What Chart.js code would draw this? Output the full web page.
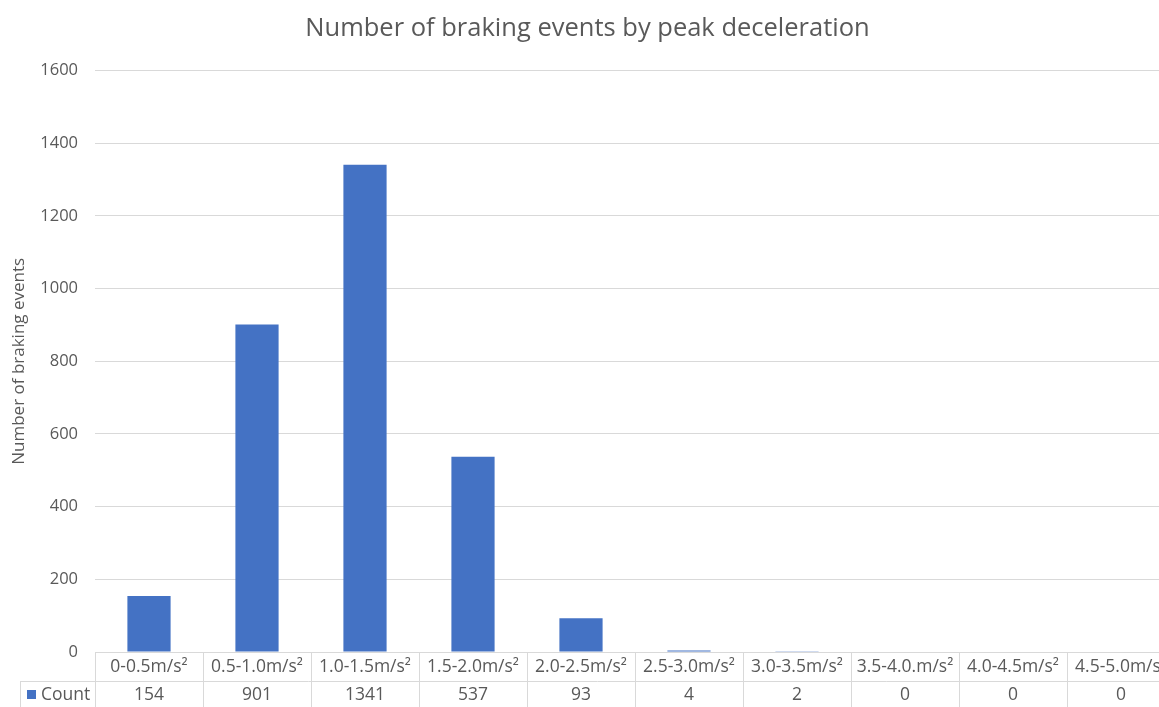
<!DOCTYPE html>
<html>
<head>
<meta charset="utf-8">
<script src="https://cdn.jsdelivr.net/npm/chart.js@4"></script>
<style>
    html, body { margin: 0; padding: 0; background: #fff; overflow: hidden; }
    #wrap { width: 1175px; height: 707px; }
</style>
</head>
<body>
<div id="wrap"><canvas id="braking-chart"></canvas></div>
<script>
/* Braking events by peak deceleration — bar chart with Excel-style data table */
var categories = ["0-0.5m/s\u00b2", "0.5-1.0m/s\u00b2", "1.0-1.5m/s\u00b2", "1.5-2.0m/s\u00b2", "2.0-2.5m/s\u00b2",
    "2.5-3.0m/s\u00b2", "3.0-3.5m/s\u00b2", "3.5-4.0.m/s\u00b2", "4.0-4.5m/s\u00b2", "4.5-5.0m/s\u00b2"];
var counts = [154, 901, 1341, 537, 93, 4, 2, 0, 0, 0];
var seriesName = "Count";
var yTicks = [0, 200, 400, 600, 800, 1000, 1200, 1400, 1600];

var textColor = "#595959";
var gridColor = "#d9d9d9";
var barColor = "#4472c4";
var fontFamily = "'Open Sans', 'Noto Sans', sans-serif";

/* Draws the data table under the plot, using the x scale for cell positions */
var dataTablePlugin = {
    id: "dataTable",
    afterDraw: function (chart) {
        var ctx = chart.ctx;
        var x = chart.scales.x;
        var area = chart.chartArea;
        var n = categories.length;
        var step = x.width / n;
        var top = area.bottom;
        var mid = top + 29;
        var bottom = chart.height;
        var keyLeft = 20;

        ctx.save();
        ctx.strokeStyle = gridColor;
        ctx.lineWidth = 1;
        ctx.beginPath();
        ctx.moveTo(x.left, top + 0.5);
        ctx.lineTo(x.right, top + 0.5);
        ctx.moveTo(keyLeft, mid + 0.5);
        ctx.lineTo(x.right, mid + 0.5);
        ctx.moveTo(keyLeft + 0.5, mid);
        ctx.lineTo(keyLeft + 0.5, bottom);
        for (var i = 0; i <= n; i++) {
            var bx = Math.round(x.getPixelForValue(0) - step / 2 + i * step) + 0.5;
            ctx.moveTo(bx, top);
            ctx.lineTo(bx, bottom);
        }
        ctx.stroke();

        ctx.fillStyle = textColor;
        ctx.font = "17.5px " + fontFamily;
        ctx.textAlign = "center";
        ctx.textBaseline = "middle";
        for (var j = 0; j < n; j++) {
            var cx = x.getPixelForValue(j);
            ctx.fillText(categories[j], cx, top + 15);
            ctx.fillText(String(counts[j]), cx, mid + 14);
        }

        ctx.fillStyle = barColor;
        ctx.fillRect(27, mid + 9, 9, 9);
        ctx.fillStyle = textColor;
        ctx.textAlign = "left";
        ctx.fillText(seriesName, 41, mid + 14);
        ctx.restore();
    }
};

new Chart(document.getElementById("braking-chart").getContext("2d"), {
    type: "bar",
    data: {
        labels: categories,
        datasets: [{
            label: seriesName,
            data: counts,
            backgroundColor: barColor,
            borderWidth: 0,
            barPercentage: 0.4,
            categoryPercentage: 1.0
        }]
    },
    options: {
        responsive: true,
        maintainAspectRatio: false,
        animation: false,
        layout: { padding: { left: 0, right: 0, top: 0, bottom: 0 } },
        plugins: {
            legend: { display: false },
            tooltip: { enabled: false },
            title: {
                display: true,
                text: "Number of braking events by peak deceleration",
                color: textColor,
                font: { family: fontFamily, size: 25.5, weight: "normal" },
                padding: { top: 13, bottom: 27 }
            }
        },
        scales: {
            x: {
                grid: { display: false },
                border: { display: false },
                ticks: { display: false },
                afterFit: function (scale) { scale.height = 55; }
            },
            y: {
                min: 0,
                max: 1600,
                afterBuildTicks: function (scale) {
                    scale.ticks = yTicks.map(function (v) { return { value: v }; });
                },
                grid: { color: gridColor, drawTicks: false },
                border: { display: false },
                ticks: {
                    color: textColor,
                    font: { family: fontFamily, size: 16.5 },
                    padding: 17,
                    callback: function (v) { return String(v); }
                },
                title: {
                    display: true,
                    text: "Number of braking events",
                    color: textColor,
                    font: { family: fontFamily, size: 17 },
                    padding: { top: 9, bottom: 4 }
                },
                afterFit: function (scale) { scale.width = 95; }
            }
        }
    },
    plugins: [dataTablePlugin]
});
</script>
</body>
</html>
